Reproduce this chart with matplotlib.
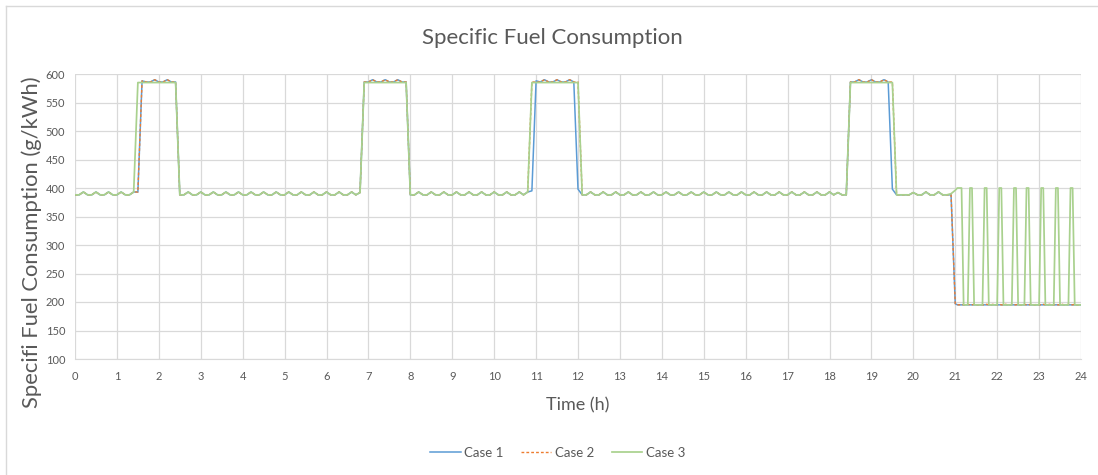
import numpy as np
import matplotlib
matplotlib.use("Agg")
import matplotlib.pyplot as plt
from matplotlib.lines import Line2D

plt.rcParams['font.family'] = ['Lato', 'DejaVu Sans']

# time grid: 0.1 h steps up to 20.9 h, then 0.05 h steps from 21 to 24 h
hours = np.concatenate([np.arange(210) * 0.1, 21 + np.arange(61) * 0.05])

case3 = [
    388, 388, 393, 388, 388, 393, 388, 388, 393, 388,
    388, 393, 388, 388, 393, 585, 585, 585, 585, 585,
    585, 585, 585, 585, 585, 388, 388, 393, 388, 388,
    393, 388, 388, 393, 388, 388, 393, 388, 388, 393,
    388, 388, 393, 388, 388, 393, 388, 388, 393, 388,
    388, 393, 388, 388, 393, 388, 388, 393, 388, 388,
    393, 388, 388, 393, 388, 388, 393, 388, 392, 585,
    585, 585, 585, 585, 585, 585, 585, 585, 585, 585,
    388, 388, 393, 388, 388, 393, 388, 388, 393, 388,
    388, 393, 388, 388, 393, 388, 388, 393, 388, 388,
    393, 388, 388, 393, 388, 388, 393, 388, 393, 585,
    585, 585, 585, 585, 585, 585, 585, 585, 585, 585,
    585, 388, 388, 393, 388, 388, 393, 388, 388, 393,
    388, 388, 393, 388, 388, 393, 388, 388, 393, 388,
    388, 393, 388, 388, 393, 388, 388, 393, 388, 388,
    393, 388, 388, 393, 388, 388, 393, 388, 388, 393,
    388, 388, 393, 388, 388, 393, 388, 388, 393, 388,
    388, 393, 388, 388, 393, 388, 388, 393, 388, 388,
    393, 388, 392, 388, 388, 585, 585, 585, 585, 585,
    585, 585, 585, 585, 585, 585, 388, 388, 388, 388,
    392, 388, 388, 393, 388, 388, 393, 388, 388, 390,
    # 21.00 - 24.00 every 0.05 h
    396, 400, 400, 400, 195, 195, 195, 400, 400, 195,
    195, 195, 195, 195, 400, 400, 195, 195, 195, 195,
    195, 400, 400, 195, 195, 195, 195, 195, 400, 400,
    195, 195, 195, 195, 400, 400, 195, 195, 195, 195,
    195, 400, 400, 195, 195, 195, 195, 195, 400, 400,
    195, 195, 195, 195, 195, 400, 400, 195, 195, 195,
    195,
]

case1 = [
    388, 388, 393, 388, 388, 393, 388, 388, 393, 388,
    388, 393, 388, 388, 393, 393, 588, 586, 586, 590,
    586, 586, 590, 586, 586, 388, 388, 393, 388, 388,
    393, 388, 388, 393, 388, 388, 393, 388, 388, 393,
    388, 388, 393, 388, 388, 393, 388, 388, 393, 388,
    388, 393, 388, 388, 393, 388, 388, 393, 388, 388,
    393, 388, 388, 393, 388, 388, 393, 388, 392, 586,
    586, 590, 586, 586, 590, 586, 586, 590, 586, 586,
    388, 388, 393, 388, 388, 393, 388, 388, 393, 388,
    388, 393, 388, 388, 393, 388, 388, 393, 388, 388,
    393, 388, 388, 393, 388, 388, 393, 388, 393, 395,
    588, 586, 590, 586, 586, 590, 586, 586, 590, 586,
    398, 388, 388, 393, 388, 388, 393, 388, 388, 393,
    388, 388, 393, 388, 388, 393, 388, 388, 393, 388,
    388, 393, 388, 388, 393, 388, 388, 393, 388, 388,
    393, 388, 388, 393, 388, 388, 393, 388, 388, 393,
    388, 388, 393, 388, 388, 393, 388, 388, 393, 388,
    388, 393, 388, 388, 393, 388, 388, 393, 388, 388,
    393, 388, 392, 388, 388, 586, 586, 590, 586, 586,
    590, 586, 586, 590, 586, 398, 388, 388, 388, 388,
    392, 388, 388, 393, 388, 388, 393, 388, 388, 388,
    197, 195, 195, 195, 195, 195, 195, 195, 195, 195,
    195, 195, 195, 195, 195, 195, 195, 195, 195, 195,
    195, 195, 195, 195, 195, 195, 195, 195, 195, 195,
    195, 195, 195, 195, 195, 195, 195, 195, 195, 195,
    195, 195, 195, 195, 195, 195, 195, 195, 195, 195,
    195, 195, 195, 195, 195, 195, 195, 195, 195, 195,
    195,
]

case2 = [
    388, 388, 393, 388, 388, 393, 388, 388, 393, 388,
    388, 393, 388, 388, 393, 393, 588, 586, 586, 590,
    586, 586, 590, 586, 586, 388, 388, 393, 388, 388,
    393, 388, 388, 393, 388, 388, 393, 388, 388, 393,
    388, 388, 393, 388, 388, 393, 388, 388, 393, 388,
    388, 393, 388, 388, 393, 388, 388, 393, 388, 388,
    393, 388, 388, 393, 388, 388, 393, 388, 392, 586,
    586, 590, 586, 586, 590, 586, 586, 590, 586, 586,
    388, 388, 393, 388, 388, 393, 388, 388, 393, 388,
    388, 393, 388, 388, 393, 388, 388, 393, 388, 388,
    393, 388, 388, 393, 388, 388, 393, 388, 393, 586,
    586, 586, 590, 586, 586, 590, 586, 586, 590, 586,
    586, 388, 388, 393, 388, 388, 393, 388, 388, 393,
    388, 388, 393, 388, 388, 393, 388, 388, 393, 388,
    388, 393, 388, 388, 393, 388, 388, 393, 388, 388,
    393, 388, 388, 393, 388, 388, 393, 388, 388, 393,
    388, 388, 393, 388, 388, 393, 388, 388, 393, 388,
    388, 393, 388, 388, 393, 388, 388, 393, 388, 388,
    393, 388, 392, 388, 388, 586, 586, 590, 586, 586,
    590, 586, 586, 590, 586, 586, 388, 388, 388, 388,
    392, 388, 388, 393, 388, 388, 393, 388, 388, 388,
    197, 195, 195, 196, 195, 195, 196, 195, 195, 196,
    195, 195, 196, 195, 195, 196, 195, 195, 196, 195,
    195, 196, 195, 195, 196, 195, 195, 196, 195, 195,
    196, 195, 195, 196, 195, 195, 196, 195, 195, 196,
    195, 195, 196, 195, 195, 196, 195, 195, 196, 195,
    195, 196, 195, 195, 196, 195, 195, 196, 195, 195,
    195,
]

x_ticks = list(range(0, 25))
y_ticks = list(range(100, 601, 50))

text_grey = '#595959'
grid_grey = '#d9d9d9'

fig = plt.figure(figsize=(10.98, 4.75), dpi=100)
ax = fig.add_axes([75 / 1098, 1 - 359 / 475, (1081 - 75) / 1098, (359 - 74) / 475])

ax.plot(hours, case1, color='#5b9bd5', lw=1.1, label='Case 1')
ax.plot(hours, case2, color='#ed7d31', lw=1.0, ls=(0, (2, 1.5)), label='Case 2')
ax.plot(hours, case3, color='#a9d18e', lw=1.25, label='Case 3')

ax.set_xlim(0, 24)
ax.set_ylim(100, 600)
ax.set_xticks(x_ticks)
ax.set_yticks(y_ticks)
ax.grid(True, color=grid_grey, lw=0.9)
ax.set_axisbelow(True)
for s in ['top', 'right', 'left']:
    ax.spines[s].set_visible(False)
ax.spines['bottom'].set_color(grid_grey)
ax.tick_params(length=0, labelsize=8, colors=text_grey)
ax.tick_params(axis='x', pad=9)
ax.tick_params(axis='y', pad=7)

fig.text(0.503, 0.92, 'Specific Fuel Consumption', ha='center', va='center',
         fontsize=16, color=text_grey)
fig.text(32 / 1098, 1 - 242 / 475, 'Specifi Fuel Consumption (g/kWh)', rotation=90,
         ha='center', va='center', fontsize=15.8, color=text_grey)
fig.text(578 / 1098, 1 - 405 / 475, 'Time (h)', ha='center', va='center',
         fontsize=13, color=text_grey)

fig.legend(loc='center', bbox_to_anchor=(0.508, 1 - 453 / 475), ncol=3,
           frameon=False, fontsize=9.5, handlelength=2.3, columnspacing=1.3,
           handletextpad=0.3, labelcolor=text_grey)

# chart area border (left and top edges visible)
fig.add_artist(Line2D([6 / 1098, 6 / 1098], [0, 1 - 6 / 475], color=grid_grey, lw=1))
fig.add_artist(Line2D([6 / 1098, 1], [1 - 6 / 475, 1 - 6 / 475], color=grid_grey, lw=1))

fig.savefig('out.png', dpi=100)
